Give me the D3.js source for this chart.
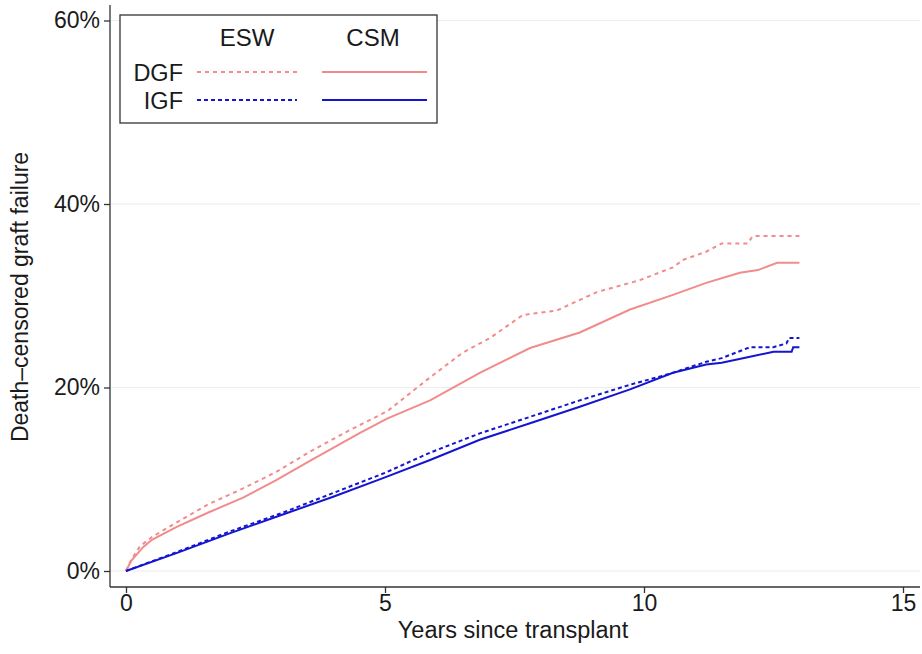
<!DOCTYPE html>
<html>
<head>
<meta charset="utf-8">
<script src="https://cdn.jsdelivr.net/npm/d3@7"></script>
<style>
  body { margin: 0; background: #fff; }
  svg text { font-family: "Liberation Sans", Arial, sans-serif; fill: #1a1a1a; }
</style>
</head>
<body>
<svg id="chart"></svg>
<script>
// values: [years, cumulative %]
const dgfEsw = [[0,0],[0.1,1.2],[0.27,2.7],[0.5,3.7],[0.98,5.3],[1.6,7.3],[2.26,9.0],[2.9,10.8],[3.55,13.0],[4.3,15.3],[5.04,17.4],[5.87,21.1],[6.5,23.8],[7.03,25.4],[7.66,27.9],[8.32,28.4],[9.09,30.4],[9.92,31.7],[10.56,33.1],[10.75,33.9],[11.2,34.8],[11.5,35.7],[12.0,35.7],[12.1,36.5],[13.0,36.5]];
const dgfCsm = [[0,0],[0.1,1.1],[0.33,2.6],[0.5,3.4],[0.98,4.8],[1.6,6.4],[2.26,8.0],[2.9,9.9],[3.55,12.0],[4.5,15.0],[5.04,16.6],[5.87,18.6],[6.83,21.6],[7.8,24.3],[8.76,26.0],[9.73,28.5],[10.56,30.1],[11.2,31.4],[11.85,32.5],[12.2,32.8],[12.57,33.6],[13.0,33.6]];
const igfEsw = [[0,0],[1,2.1],[2,4.3],[3,6.3],[4,8.5],[5,10.7],[5.87,12.9],[6.83,15.0],[7.8,16.8],[8.76,18.6],[9.73,20.3],[10.5,21.5],[11.2,22.8],[11.5,23.2],[12.05,24.4],[12.5,24.4],[12.75,24.8],[12.8,25.4],[13.0,25.4]];
const igfCsm = [[0,0],[1,2.0],[2,4.1],[3,6.1],[4,8.1],[5,10.2],[5.87,12.1],[6.83,14.3],[7.8,16.1],[8.76,17.9],[9.73,19.8],[10.56,21.6],[11.2,22.5],[11.5,22.7],[12.0,23.3],[12.5,23.9],[12.85,23.9],[12.88,24.4],[13.0,24.4]];

const xTicks = [0, 5, 10, 15];
const yTicks = [0, 20, 40, 60];
const colHeads = ["ESW", "CSM"];
const rowLabels = ["DGF", "IGF"];

const W = 922, H = 654;
const pink = "#f28b8b", blue = "#1414d2";

const svg = d3.select("#chart").attr("width", W).attr("height", H);

const x = d3.scaleLinear().domain([0, 15]).range([126, 903]);
const y = d3.scaleLinear().domain([0, 60]).range([571, 20.5]);

// gridlines
svg.append("g")
  .selectAll("line")
  .data(yTicks)
  .enter()
  .append("line")
  .attr("x1", 110).attr("x2", 920)
  .attr("y1", (d) => y(d)).attr("y2", (d) => y(d))
  .attr("stroke", "#ececec")
  .attr("stroke-width", 1.2);

// axes
let yAxis = svg.append("g")
  .attr("transform", "translate(110,0)")
  .call(d3.axisLeft(y).tickValues(yTicks).tickFormat((d) => d + "%").tickSize(6).tickPadding(4));
yAxis.select(".domain").attr("d", "M0,5V587");
yAxis.selectAll("text").style("font-size", "23px");

let xAxis = svg.append("g")
  .attr("transform", "translate(0,587)")
  .call(d3.axisBottom(x).tickValues(xTicks).tickSize(6).tickPadding(2));
xAxis.select(".domain").attr("d", "M110,0H920");
xAxis.selectAll("text").style("font-size", "23px");
svg.selectAll(".domain, .tick line").attr("stroke", "#333").attr("stroke-width", 1.3);

// axis titles
svg.append("text")
  .attr("x", 513).attr("y", 638)
  .attr("text-anchor", "middle")
  .style("font-size", "23.5px")
  .text("Years since transplant");

svg.append("text")
  .attr("transform", "translate(28,297) rotate(-90)")
  .attr("text-anchor", "middle")
  .style("font-size", "23px")
  .text("Death\u2013censored graft failure");

// curves
const line = d3.line().x((d) => x(d[0])).y((d) => y(d[1]));
const series = [
  { data: dgfEsw, color: pink, dash: "4,4" },
  { data: dgfCsm, color: pink, dash: null },
  { data: igfEsw, color: blue, dash: "4,3" },
  { data: igfCsm, color: blue, dash: null }
];
series.forEach((s) => {
  svg.append("path")
    .datum(s.data)
    .attr("d", line)
    .attr("fill", "none")
    .attr("stroke", s.color)
    .attr("stroke-width", 2)
    .attr("stroke-dasharray", s.dash);
});

// legend
let lg = svg.append("g");
lg.append("rect")
  .attr("x", 120).attr("y", 15).attr("width", 317).attr("height", 108)
  .attr("fill", "#fff").attr("stroke", "#333").attr("stroke-width", 1.3);
lg.selectAll(".head")
  .data(colHeads)
  .enter()
  .append("text")
  .attr("x", (d, i) => [247, 373][i]).attr("y", 46)
  .attr("text-anchor", "middle")
  .style("font-size", "24px")
  .text((d) => d);
lg.selectAll(".row")
  .data(rowLabels)
  .enter()
  .append("text")
  .attr("x", 183).attr("y", (d, i) => [80.5, 108.5][i])
  .attr("text-anchor", "end")
  .style("font-size", "23.5px")
  .text((d) => d);
const legRows = [[pink, "4,4", 72], [pink, null, 72], [blue, "4,3", 100], [blue, null, 100]];
legRows.forEach((r, i) => {
  const x0 = i % 2 === 0 ? 197 : 322, x1 = i % 2 === 0 ? 297 : 427;
  lg.append("line")
    .attr("x1", x0).attr("x2", x1).attr("y1", r[2]).attr("y2", r[2])
    .attr("stroke", r[0]).attr("stroke-width", 2)
    .attr("stroke-dasharray", r[1]);
});
</script>
</body>
</html>
